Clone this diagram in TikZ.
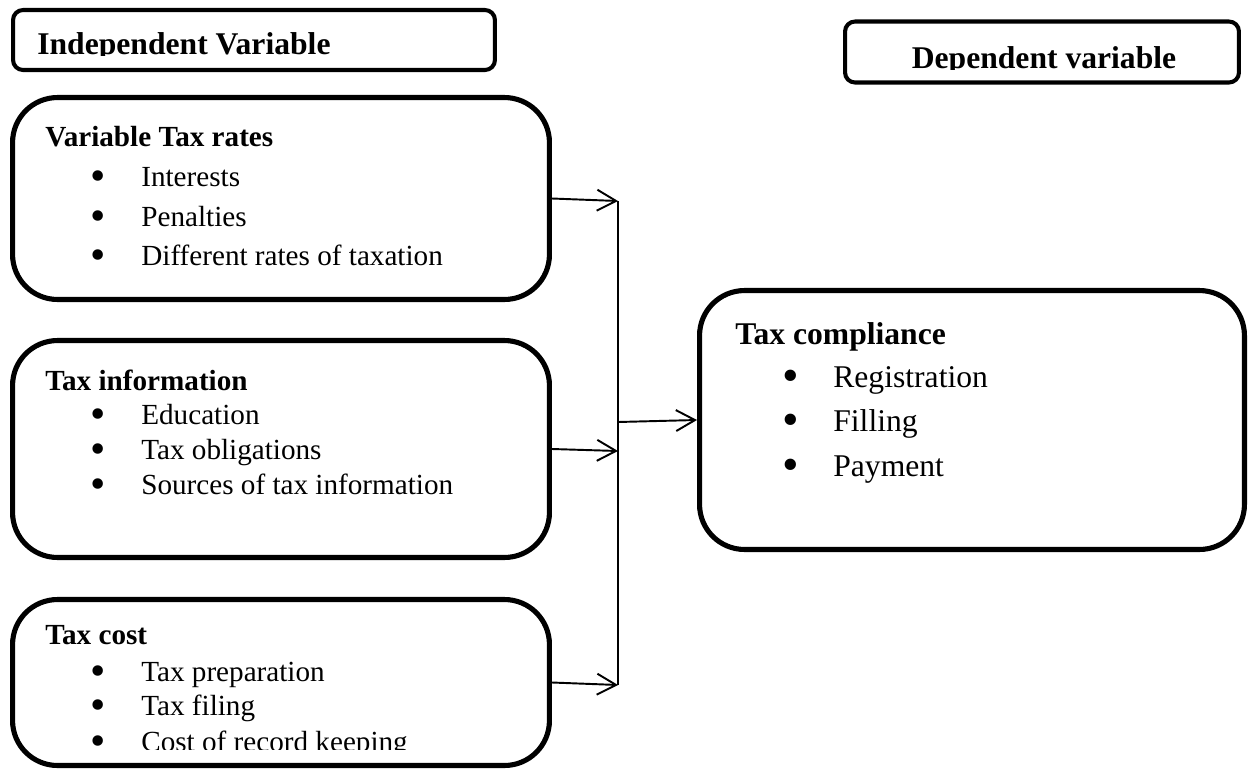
\documentclass[tikz,border=0pt]{standalone}
\usepackage{fontspec}
\setmainfont{Liberation Serif}
\usetikzlibrary{arrows.meta,positioning}
\newcommand{\smallsz}{\fontsize{16.6}{20}\selectfont}
\newcommand{\largesz}{\fontsize{18}{22}\selectfont}
\newcommand{\bul}{\makebox[1.02cm][l]{\smash{\raisebox{-0.155em}{\scalebox{1.5}{•}}}}}
\tikzset{
  hdrbox/.style={draw,line width=2.3pt,rounded corners=.2cm,inner sep=0pt},
  varbox/.style={draw,line width=2.9pt,rounded corners=.9cm,inner sep=0pt},
  flow/.style={-{Straight Barb[length=3.8mm,width=4.2mm]},line width=1.1pt},
  plainline/.style={line width=1.1pt},
  ttl/.style={anchor=base west,inner sep=0pt,font=\bfseries\smallsz},
  itm/.style={anchor=base west,inner sep=0pt,font=\smallsz},
  bigttl/.style={anchor=base west,inner sep=0pt,font=\bfseries\largesz},
  bigitm/.style={anchor=base west,inner sep=0pt,font=\largesz}
}
\begin{document}
\begin{tikzpicture}[x=0.02cm,y=-0.02cm]
  \useasboundingbox (0,0) rectangle (1249,772);
  % header boxes
  \node[hdrbox,minimum width=9.64cm,minimum height=1.2cm] (indep) at (254,40) {};
  \node[hdrbox,minimum width=7.88cm,minimum height=1.22cm] (dep) at (1042,52) {};
  \begin{scope}
    \clip (0,0) rectangle (1249,55);
    \node[bigttl] (indeptxt) at (37,54) {Independent Variable};
  \end{scope}
  \begin{scope}
    \clip (0,0) rectangle (1249,69);
    \node[bigttl,anchor=base] (deptxt) at (1044,68) {Dependent variable};
  \end{scope}
  % independent variables
  \node[varbox,minimum width=10.74cm,minimum height=4.04cm] (rates) at (281,198.5) {};
  \node[ttl] (ratesttl) at (45,146) {Variable Tax rates};
  \node[itm] (rates1) at (90,186) {\bul Interests};
  \node[itm] (rates2) at (90,226) {\bul Penalties};
  \node[itm] (rates3) at (90,265) {\bul Different rates of taxation};

  \node[varbox,minimum width=10.74cm,minimum height=4.34cm] (info) at (281,449) {};
  \node[ttl] (infottl) at (45,390) {Tax information};
  \node[itm] (info1) at (90,424) {\bul Education};
  \node[itm] (info2) at (90,459) {\bul Tax obligations};
  \node[itm] (info3) at (90,494) {\bul Sources of tax information};

  \node[varbox,minimum width=10.74cm,minimum height=3.32cm] (cost) at (281,682.5) {};
  \node[ttl] (costttl) at (45,644) {Tax cost};
  \node[itm] (cost1) at (90,681) {\bul Tax preparation};
  \node[itm] (cost2) at (90,715) {\bul Tax filing};
  \begin{scope}
    \clip (0,0) rectangle (1249,749);
    \node[itm] (cost3) at (90,751) {\bul Cost of record keeping};
  \end{scope}
  % dependent variable
  \node[varbox,minimum width=10.9cm,minimum height=5.18cm] (comp) at (972,420) {};
  \node[bigttl] (compttl) at (735,344) {Tax compliance};
  \node[bigitm] (comp1) at (782,387) {\bul Registration};
  \node[bigitm] (comp2) at (782,431) {\bul Filling};
  \node[bigitm] (comp3) at (782,476) {\bul Payment};
  % connectors
  \coordinate (jtop) at (618,201);
  \coordinate (jmid) at (618,451);
  \coordinate (jbot) at (618,685);
  \coordinate (jout) at (618,422);
  \draw[plainline] (jtop) -- (jbot);
  \draw[flow] (rates.east) -- (jtop);
  \draw[flow] (info.east) -- (jmid);
  \draw[flow] (cost.east) -- (jbot);
  \draw[flow] (jout) -- (comp.west);
\end{tikzpicture}
\end{document}
